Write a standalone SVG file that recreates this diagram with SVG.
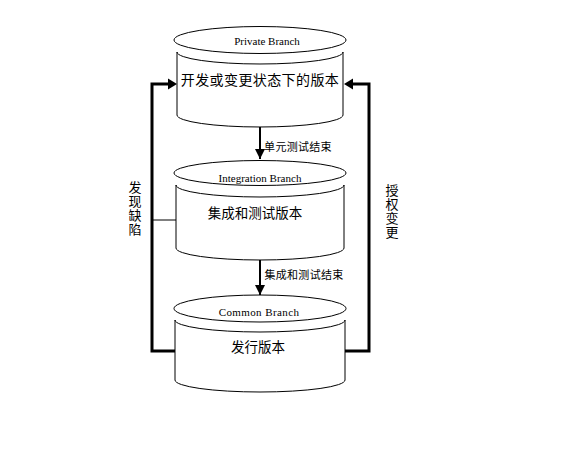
<svg xmlns="http://www.w3.org/2000/svg" width="576" height="455" viewBox="0 0 576 455">
<style>
.cyl{fill:#fff;stroke:#000;stroke-width:1}
.en{font-family:"Liberation Serif",serif;font-size:11px;fill:#000;text-anchor:middle}
.zh{font-family:"Liberation Sans","Noto Sans CJK SC",sans-serif;fill:#000;text-anchor:middle}
.thick{fill:none;stroke:#000;stroke-width:3}
.mid{fill:none;stroke:#000;stroke-width:2}
.thin{fill:none;stroke:#000;stroke-width:1}
</style>
<defs>
<marker id="ah" markerUnits="userSpaceOnUse" markerWidth="10" markerHeight="10" viewBox="0 0 10 10" refX="10" refY="5" orient="auto">
<path d="M0,0 L10,5 L0,10 Z" fill="#000"/>
</marker>
</defs>
<rect width="576" height="455" fill="#fff"/>
<g id="connectors">
<path class="thick" d="M175,351 H152 V84 H168" />
<path d="M168,78.5 L177,84 L168,89.5 Z" fill="#000"/>
<path class="thick" d="M344,351 H369 V84 H353" />
<path d="M353,78.5 L344,84 L353,89.5 Z" fill="#000"/>
<path class="thin" d="M152,220 H176"/>
<path class="mid" d="M260,127 V159" marker-end="url(#ah)"/>
<path class="mid" d="M260,260 V295" marker-end="url(#ah)"/>
<text class="zh" x="298" y="151" font-size="11" letter-spacing="0.3">单元测试结束</text>
<text class="zh" x="304" y="279" font-size="11" letter-spacing="0.3">集成和测试结束</text>
</g>
<g id="private">
<path class="cyl" d="M177,52 V115 A83,12 0 0 0 343,115 V52 A83,12 0 0 1 177,52 Z"/>
<ellipse class="cyl" cx="260" cy="40" rx="86" ry="13.5"/>
<text class="en" x="267" y="45">Private Branch</text>
<text class="zh" x="260" y="85" font-size="14" letter-spacing="0.4">开发或变更状态下的版本</text>
</g>
<g id="integration">
<path class="cyl" d="M176,185 V248 A84,12 0 0 0 344,248 V185 A84,12 0 0 1 176,185 Z"/>
<ellipse class="cyl" cx="260" cy="173" rx="86" ry="12.5"/>
<text class="en" x="260" y="182">Integration Branch</text>
<text class="zh" x="255" y="218" font-size="13.5">集成和测试版本</text>
</g>
<g id="common">
<path class="cyl" d="M175,320 V380 A85,12 0 0 0 345,380 V320 A85,12 0 0 1 175,320 Z"/>
<ellipse class="cyl" cx="260" cy="308.5" rx="86" ry="13.5"/>
<text class="en" x="259" y="316" letter-spacing="0.4">Common Branch</text>
<text class="zh" x="258" y="352" font-size="13.5">发行版本</text>
</g>
<g id="labels">
<text class="zh" x="135" y="192" font-size="13">发</text>
<text class="zh" x="135" y="206" font-size="13">现</text>
<text class="zh" x="135" y="220" font-size="13">缺</text>
<text class="zh" x="135" y="234" font-size="13">陷</text>
<text class="zh" x="392" y="195" font-size="13">授</text>
<text class="zh" x="392" y="209" font-size="13">权</text>
<text class="zh" x="392" y="223" font-size="13">变</text>
<text class="zh" x="392" y="237" font-size="13">更</text>
</g>
</svg>
